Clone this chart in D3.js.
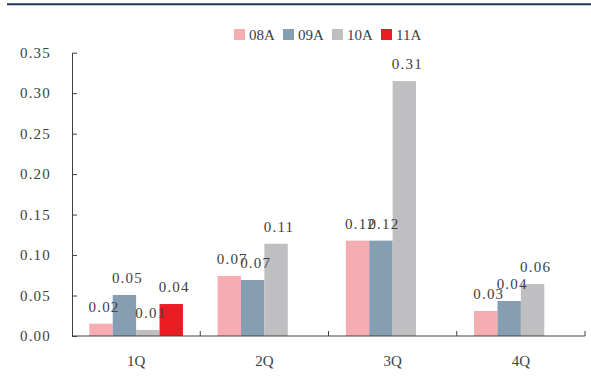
<!DOCTYPE html>
<html>
<head>
<meta charset="utf-8">
<script src="https://cdn.jsdelivr.net/npm/d3@7/dist/d3.min.js"></script>
<style>
  html, body { margin: 0; padding: 0; background: #fff; }
  svg { display: block; }
  text { font-family: "Liberation Serif", "DejaVu Serif", serif; fill: #404040; }
</style>
</head>
<body>
<svg id="chart" width="591" height="382"></svg>
<script>
// Quarterly figures per year
const categories = ["1Q", "2Q", "3Q", "4Q"];
const seriesNames = ["08A", "09A", "10A", "11A"];
const v08A = [0.0152, 0.0741, 0.1178, 0.0309];
const v09A = [0.0507, 0.0692, 0.1178, 0.0432];
const v10A = [0.0075, 0.1140, 0.3149, 0.0642];
const v11A = [0.0395, null, null, null];
const yTicks = [0, 0.05, 0.10, 0.15, 0.20, 0.25, 0.30, 0.35];
const colors = ["#F5ADB1", "#869EB2", "#BFBFC1", "#EC1C24"];

const seriesValues = [v08A, v09A, v10A, v11A];
const fmt = d3.format(".2f");

const svg = d3.select("#chart");

// Header rule
svg.append("line")
  .attr("x1", 7).attr("x2", 591).attr("y1", 4.2).attr("y2", 4.2)
  .attr("stroke", "#1B3461").attr("stroke-width", 2);

const plotLeft = 72, plotRight = 585, plotTop = 52.7, plotBottom = 336;

const x = d3.scaleBand().domain(categories).range([plotLeft, plotRight]).padding(0);
const groupPad = 0.135;
const x1 = d3.scaleBand().domain(seriesNames)
  .range([x.bandwidth() * groupPad, x.bandwidth() * (1 - groupPad)]).padding(0);
const y = d3.scaleLinear().domain([0, 0.35]).range([plotBottom, plotTop]);

// Bars
const data = [];
categories.forEach((c, i) => {
  seriesNames.forEach((s, j) => {
    const v = seriesValues[j][i];
    if (v !== null && v !== undefined) data.push({ c, s, v, color: colors[j] });
  });
});

svg.append("g").selectAll("rect").data(data).join("rect")
  .attr("x", d => x(d.c) + x1(d.s))
  .attr("y", d => y(d.v))
  .attr("width", x1.bandwidth())
  .attr("height", d => y(0) - y(d.v))
  .attr("fill", d => d.color);

// Value labels
svg.append("g").selectAll("text").data(data).join("text")
  .attr("x", d => x(d.c) + x1(d.s) + x1.bandwidth() / 2 + 3)
  .attr("y", d => y(d.v) - 12)
  .attr("text-anchor", "middle")
  .attr("font-size", 15)
  .attr("letter-spacing", 1.2)
  .text(d => fmt(d.v));

// Y axis
const yAxis = d3.axisLeft(y).tickValues(yTicks).tickFormat(fmt)
  .tickSizeInner(-5).tickSizeOuter(0).tickPadding(21);
const gy = svg.append("g").attr("transform", `translate(${plotLeft},0)`).call(yAxis);
gy.select(".domain").attr("stroke", "#404040");
gy.selectAll(".tick line").attr("stroke", "#404040");
gy.selectAll(".tick text")
  .attr("font-family", "Liberation Serif, DejaVu Serif, serif")
  .attr("font-size", 15).attr("letter-spacing", 1.2).attr("fill", "#404040");

// X axis baseline, boundary ticks and category labels
svg.append("line")
  .attr("x1", plotLeft).attr("x2", plotRight).attr("y1", y(0)).attr("y2", y(0))
  .attr("stroke", "#404040").attr("stroke-width", 1);
svg.append("g").selectAll("line").data(categories).join("line")
  .attr("x1", d => x(d) + x.bandwidth()).attr("x2", d => x(d) + x.bandwidth())
  .attr("y1", y(0)).attr("y2", y(0) - 5)
  .attr("stroke", "#404040");
svg.append("g").selectAll("text").data(categories).join("text")
  .attr("x", d => x(d) + x.bandwidth() / 2)
  .attr("y", 366)
  .attr("text-anchor", "middle")
  .attr("font-size", 15)
  .text(d => d);

// Legend
const legend = svg.append("g").selectAll("g").data(seriesNames).join("g")
  .attr("transform", (d, i) => `translate(${234 + i * 49},29)`);
legend.append("rect").attr("width", 11).attr("height", 11)
  .attr("fill", (d, i) => colors[i]);
legend.append("text").attr("x", 15).attr("y", 10.5)
  .attr("font-size", 15)
  .text(d => d);
</script>
</body>
</html>
